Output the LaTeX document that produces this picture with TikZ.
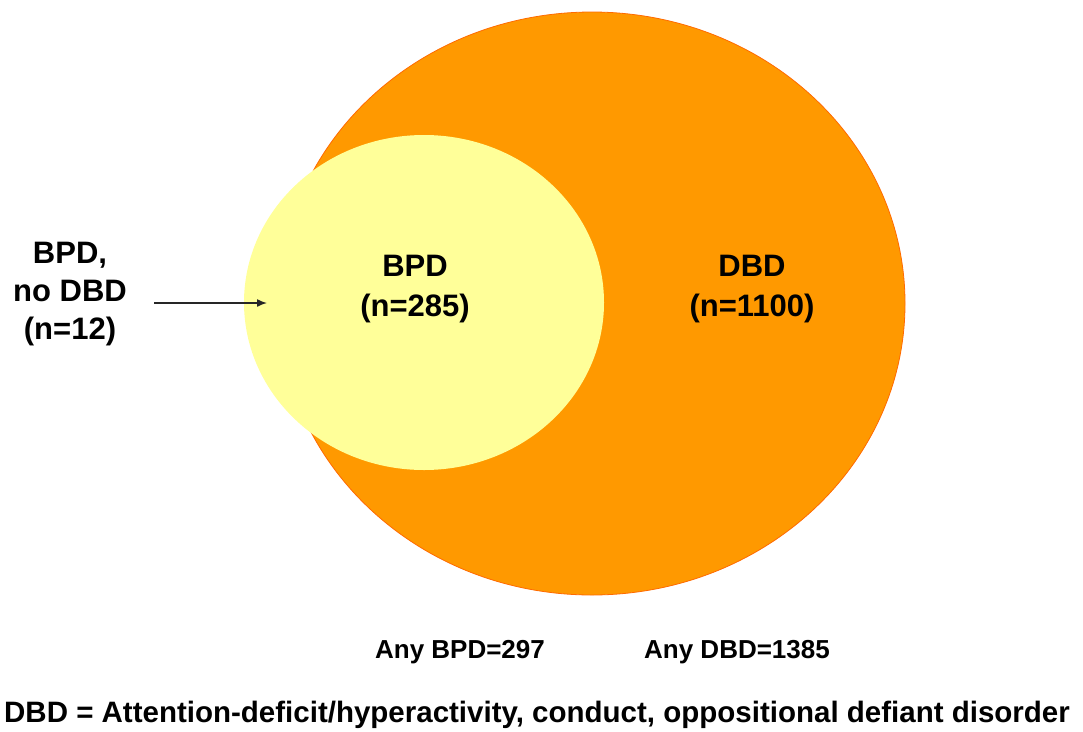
\documentclass[tikz,border=0pt]{standalone}
\usepackage{fontspec}
\setmainfont{Liberation Sans}
\usetikzlibrary{arrows.meta, shapes.geometric, positioning}
\definecolor{dbdorange}{HTML}{FF9900}
\definecolor{dbdedge}{HTML}{FF6A00}
\definecolor{bpdyellow}{HTML}{FFFF99}

\begin{document}
\begin{tikzpicture}[x=1pt, y=-1pt,
  set/.style={ellipse, inner sep=0pt},
  lbl/.style={align=center, inner sep=0pt, font=\bfseries\fontsize{31}{40}\selectfont},
  side/.style={lbl, font=\bfseries\fontsize{31}{38}\selectfont},
  note/.style={anchor=base, inner sep=0pt, font=\bfseries\fontsize{26}{30}\selectfont},
  a/.style={-{Latex[length=10pt, width=8pt]}, line width=1.5pt, draw=black!85}]
  \useasboundingbox (0,0) rectangle (1083,731);
  % the two sets
  \node[set, fill=dbdorange, draw=dbdedge, line width=0.8pt,
        minimum width=626pt, minimum height=583pt] (dbd) at (592,303.5) {};
  \node[set, fill=bpdyellow, minimum width=360pt, minimum height=335pt] (bpd) at (424,302.5) {};
  % labels
  \node[lbl] (bpdtxt) at (415,289) {BPD\\(n=285)};
  \node[lbl] (dbdtxt) at (752,289) {DBD\\(n=1100)};
  \node[side] (nodbd) at (70,294) {BPD,\\no DBD\\(n=12)};
  \coordinate (tip) at (267,303);
  \draw[a, shorten <=27pt] (nodbd.east |- tip) -- (tip);
  % totals and key
  \node[note] (anybpd) at (460,658) {Any BPD=297};
  \node[note] (anydbd) at (737,658) {Any DBD=1385};
  \node[note, font=\bfseries\fontsize{29.5}{32}\selectfont] (key) at (537,722)
       {DBD = Attention-deficit/hyperactivity, conduct, oppositional defiant disorder};
\end{tikzpicture}
\end{document}
